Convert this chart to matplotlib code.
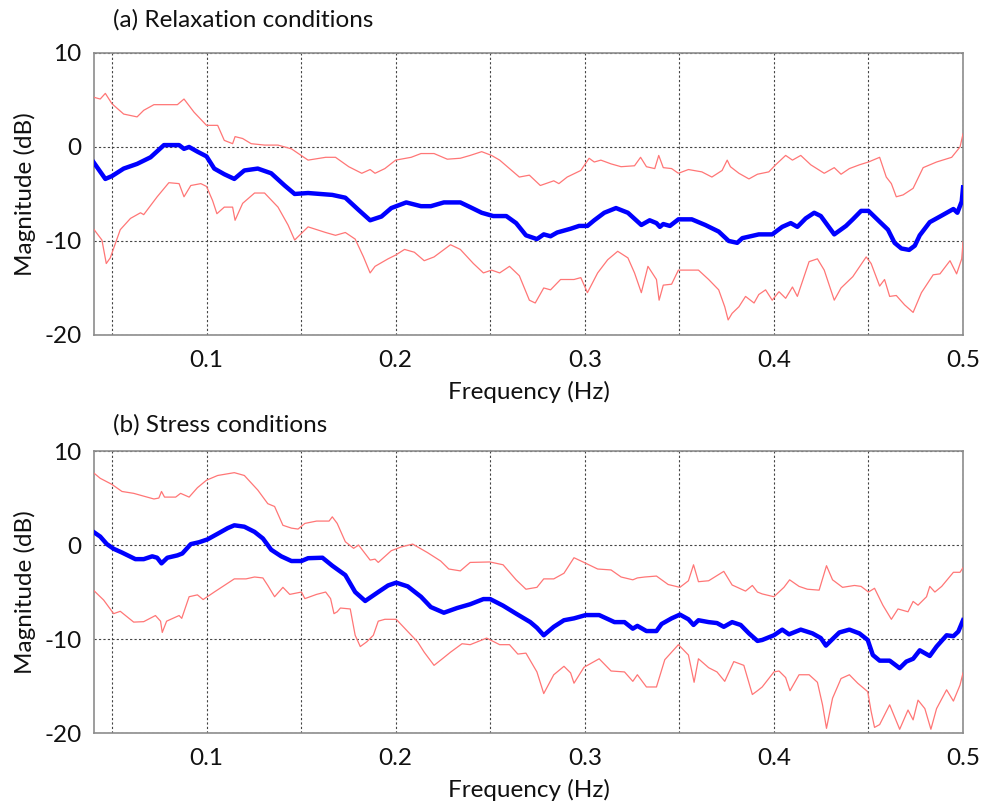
import numpy as np
import matplotlib
matplotlib.use("Agg")
import matplotlib.pyplot as plt
from matplotlib.ticker import MultipleLocator

plt.rcParams['font.family'] = ['Lato', 'DejaVu Sans']
plt.rcParams['axes.unicode_minus'] = False

# (a) relaxation: mean magnitude
a_mean_f = [0.0402, 0.0465, 0.0500, 0.0562, 0.0633, 0.0704, 0.0775, 0.0855, 0.0881, 0.0908, 0.0952, 0.1000,
            0.1041, 0.1094, 0.1147, 0.1200, 0.1271, 0.1342, 0.1413, 0.1466, 0.1537, 0.1665, 0.1734, 0.1804,
            0.1865, 0.1925, 0.1977, 0.2056, 0.2134, 0.2186, 0.2255, 0.2342, 0.2394, 0.2455, 0.2516, 0.2585,
            0.2637, 0.2689, 0.2747, 0.2783, 0.2819, 0.2854, 0.2925, 0.2970, 0.3014, 0.3050, 0.3103, 0.3165,
            0.3228, 0.3299, 0.3343, 0.3379, 0.3397, 0.3415, 0.3450, 0.3495, 0.3566, 0.3637, 0.3708, 0.3761,
            0.3806, 0.3833, 0.3920, 0.3991, 0.4044, 0.4089, 0.4124, 0.4168, 0.4213, 0.4248, 0.4319, 0.4381,
            0.4417, 0.4461, 0.4500, 0.4559, 0.4603, 0.4638, 0.4674, 0.4715, 0.4745, 0.4771, 0.4824, 0.4878,
            0.4949, 0.4970, 0.4993, 0.5000]
a_mean = [-1.6, -3.4, -3.1, -2.3, -1.8, -1.1, 0.2, 0.2, -0.2, 0.0, -0.5, -1.0,
          -2.3, -2.9, -3.4, -2.5, -2.3, -2.8, -4.1, -5.0, -4.9, -5.1, -5.4, -6.7,
          -7.8, -7.4, -6.5, -5.9, -6.3, -6.3, -5.9, -5.9, -6.4, -7.0, -7.35, -7.35,
          -8.1, -9.4, -9.8, -9.3, -9.5, -9.1, -8.7, -8.4, -8.4, -7.8, -7.0, -6.5,
          -7.0, -8.3, -7.8, -8.1, -8.5, -8.2, -8.4, -7.7, -7.7, -8.3, -9.0, -10.0,
          -10.2, -9.7, -9.3, -9.3, -8.5, -8.1, -8.5, -7.6, -7.0, -7.35, -9.3, -8.4,
          -7.7, -6.8, -6.8, -7.95, -8.8, -10.2, -10.8, -10.95, -10.5, -9.4, -8.0, -7.4,
          -6.6, -7.0, -5.8, -4.3]

# (a) upper bound
a_up_f = [0.0402, 0.0438, 0.0465, 0.0500, 0.0562, 0.0633, 0.0668, 0.0722, 0.0846, 0.0881, 0.0934, 0.1000,
          0.1059, 0.1094, 0.1138, 0.1151, 0.1191, 0.1236, 0.1307, 0.1378, 0.1449, 0.1537, 0.1630, 0.1682,
          0.1752, 0.1821, 0.1865, 0.1891, 0.1943, 0.2000, 0.2082, 0.2134, 0.2203, 0.2273, 0.2342, 0.2394,
          0.2455, 0.2507, 0.2550, 0.2602, 0.2654, 0.2707, 0.2765, 0.2836, 0.2863, 0.2907, 0.2979, 0.3023,
          0.3050, 0.3085, 0.3139, 0.3192, 0.3263, 0.3295, 0.3326, 0.3370, 0.3391, 0.3415, 0.3459, 0.3495,
          0.3548, 0.3619, 0.3672, 0.3726, 0.3753, 0.3770, 0.3815, 0.3868, 0.3913, 0.3973, 0.4009, 0.4062,
          0.4098, 0.4142, 0.4195, 0.4266, 0.4319, 0.4355, 0.4399, 0.4452, 0.4500, 0.4559, 0.4594, 0.4621,
          0.4647, 0.4683, 0.4736, 0.4789, 0.4860, 0.4940, 0.4984, 0.5000]
a_up = [5.3, 5.1, 5.7, 4.6, 3.5, 3.2, 3.9, 4.5, 4.5, 5.1, 3.7, 2.3,
        2.3, 0.7, 0.35, 1.1, 0.9, 0.35, 0.2, 0.2, -0.2, -1.4, -1.1, -1.1,
        -2.1, -2.8, -2.4, -2.8, -2.3, -1.4, -1.1, -0.7, -0.7, -1.3, -1.2, -0.9,
        -0.5, -0.9, -1.4, -2.3, -3.2, -3.0, -4.1, -3.6, -3.9, -3.2, -2.5, -1.2,
        -1.6, -1.4, -1.8, -2.1, -2.0, -1.1, -2.1, -2.3, -0.9, -2.2, -2.3, -2.8,
        -2.4, -2.65, -3.2, -2.5, -1.4, -2.1, -2.8, -3.4, -2.9, -2.65, -1.9, -0.9,
        -1.4, -0.9, -1.9, -2.8, -2.2, -2.9, -2.3, -1.9, -1.6, -1.1, -3.2, -3.9,
        -5.3, -5.1, -4.4, -2.2, -1.6, -1.1, 0.0, 1.4]

# (a) lower bound
a_lo_f = [0.0402, 0.0447, 0.0470, 0.0491, 0.0544, 0.0598, 0.0651, 0.0668, 0.0739, 0.0801, 0.0855, 0.0881,
          0.0917, 0.0970, 0.1000, 0.1032, 0.1055, 0.1094, 0.1138, 0.1151, 0.1191, 0.1254, 0.1307, 0.1378,
          0.1431, 0.1466, 0.1537, 0.1630, 0.1682, 0.1734, 0.1786, 0.1830, 0.1865, 0.1891, 0.1960, 0.2000,
          0.2047, 0.2099, 0.2151, 0.2203, 0.2290, 0.2342, 0.2411, 0.2464, 0.2507, 0.2550, 0.2602, 0.2654,
          0.2707, 0.2738, 0.2783, 0.2819, 0.2872, 0.2943, 0.2979, 0.3014, 0.3068, 0.3121, 0.3174, 0.3228,
          0.3263, 0.3299, 0.3334, 0.3379, 0.3393, 0.3415, 0.3459, 0.3495, 0.3601, 0.3655, 0.3708, 0.3740,
          0.3758, 0.3779, 0.3815, 0.3850, 0.3895, 0.3920, 0.3956, 0.3991, 0.4027, 0.4062, 0.4098, 0.4124,
          0.4186, 0.4230, 0.4266, 0.4319, 0.4355, 0.4417, 0.4488, 0.4514, 0.4559, 0.4585, 0.4612, 0.4647,
          0.4691, 0.4736, 0.4780, 0.4842, 0.4878, 0.4931, 0.4966, 0.4993, 0.5000]
a_lo = [-8.7, -9.9, -12.4, -11.8, -8.8, -7.6, -7.0, -7.2, -5.3, -3.8, -3.9, -5.3,
        -4.1, -3.9, -4.2, -5.7, -7.1, -6.4, -6.4, -7.8, -6.0, -4.9, -4.9, -6.4,
        -8.3, -9.9, -8.5, -9.1, -9.4, -9.1, -9.8, -11.7, -13.4, -12.7, -11.9, -11.5,
        -10.9, -11.2, -12.1, -11.7, -10.4, -10.9, -12.4, -13.4, -13.1, -13.4, -12.7, -13.7,
        -16.3, -16.6, -15.0, -15.2, -14.1, -14.1, -13.9, -15.5, -13.4, -12.0, -11.1, -11.8,
        -13.4, -15.5, -12.7, -14.1, -16.3, -14.7, -14.6, -13.1, -13.1, -14.1, -15.2, -17.0,
        -18.4, -17.7, -17.0, -15.9, -16.6, -15.7, -15.2, -16.3, -15.4, -16.1, -14.9, -15.9,
        -12.2, -11.9, -13.1, -16.3, -15.0, -13.8, -11.7, -12.4, -14.8, -14.1, -15.9, -15.8,
        -16.8, -17.6, -15.5, -13.6, -13.5, -12.1, -13.5, -11.9, -10.1]

# (b) stress: mean magnitude
b_mean_f = [0.0402, 0.0438, 0.0473, 0.0509, 0.0553, 0.0624, 0.0668, 0.0713, 0.0739, 0.0762, 0.0793, 0.0846,
            0.0872, 0.0917, 0.0961, 0.1005, 0.1059, 0.1112, 0.1147, 0.1200, 0.1254, 0.1298, 0.1342, 0.1395,
            0.1449, 0.1502, 0.1537, 0.1613, 0.1665, 0.1734, 0.1786, 0.1839, 0.1908, 0.1960, 0.2003, 0.2064,
            0.2134, 0.2186, 0.2255, 0.2325, 0.2394, 0.2464, 0.2500, 0.2568, 0.2637, 0.2712, 0.2747, 0.2783,
            0.2836, 0.2890, 0.2943, 0.3005, 0.3076, 0.3157, 0.3210, 0.3254, 0.3278, 0.3326, 0.3379, 0.3406,
            0.3459, 0.3503, 0.3548, 0.3575, 0.3601, 0.3655, 0.3699, 0.3735, 0.3779, 0.3824, 0.3868, 0.3913,
            0.3938, 0.4000, 0.4044, 0.4080, 0.4142, 0.4204, 0.4248, 0.4275, 0.4310, 0.4346, 0.4399, 0.4452,
            0.4496, 0.4523, 0.4559, 0.4612, 0.4665, 0.4700, 0.4736, 0.4771, 0.4824, 0.4860, 0.4913, 0.4949,
            0.4975, 0.5000]
b_mean = [1.4, 0.9, 0.1, -0.4, -0.8, -1.5, -1.5, -1.2, -1.35, -1.95, -1.35, -1.1,
          -0.9, 0.1, 0.3, 0.6, 1.2, 1.8, 2.1, 1.95, 1.4, 0.7, -0.5, -1.2,
          -1.7, -1.7, -1.4, -1.35, -2.2, -3.2, -5.0, -5.95, -5.0, -4.3, -4.0, -4.4,
          -5.5, -6.6, -7.2, -6.7, -6.3, -5.75, -5.75, -6.45, -7.3, -8.2, -8.8, -9.6,
          -8.7, -8.0, -7.8, -7.45, -7.45, -8.2, -8.2, -8.9, -8.6, -9.15, -9.15, -8.4,
          -7.8, -7.4, -7.9, -8.5, -8.0, -8.2, -8.3, -8.7, -8.2, -8.5, -9.4, -10.2,
          -10.1, -9.6, -9.0, -9.5, -9.0, -9.4, -9.9, -10.7, -10.0, -9.3, -9.0, -9.4,
          -10.1, -11.7, -12.3, -12.3, -13.1, -12.4, -12.1, -11.2, -11.8, -10.8, -9.6, -9.7,
          -9.2, -8.0]

# (b) upper bound
b_up_f = [0.0402, 0.0438, 0.0500, 0.0553, 0.0615, 0.0668, 0.0722, 0.0748, 0.0762, 0.0778, 0.0837, 0.0863,
          0.0908, 0.0952, 0.1000, 0.1059, 0.1147, 0.1200, 0.1271, 0.1324, 0.1360, 0.1404, 0.1449, 0.1484,
          0.1520, 0.1582, 0.1648, 0.1665, 0.1691, 0.1734, 0.1778, 0.1804, 0.1865, 0.1891, 0.1908, 0.1977,
          0.2030, 0.2090, 0.2168, 0.2238, 0.2281, 0.2342, 0.2394, 0.2498, 0.2568, 0.2637, 0.2689, 0.2747,
          0.2783, 0.2836, 0.2890, 0.2943, 0.2996, 0.3068, 0.3139, 0.3192, 0.3254, 0.3278, 0.3317, 0.3379,
          0.3441, 0.3503, 0.3548, 0.3575, 0.3601, 0.3655, 0.3735, 0.3779, 0.3850, 0.3886, 0.3913, 0.3938,
          0.4000, 0.4053, 0.4083, 0.4133, 0.4177, 0.4239, 0.4278, 0.4310, 0.4363, 0.4426, 0.4461, 0.4500,
          0.4532, 0.4576, 0.4621, 0.4656, 0.4709, 0.4736, 0.4762, 0.4807, 0.4824, 0.4851, 0.4887, 0.4949,
          0.4984, 0.5000]
b_up = [7.7, 7.1, 6.45, 5.7, 5.5, 5.2, 4.9, 5.0, 5.7, 5.1, 5.1, 5.5,
        5.1, 6.1, 6.9, 7.4, 7.7, 7.4, 5.85, 4.4, 4.1, 2.1, 1.8, 1.7,
        2.3, 2.55, 2.55, 3.0, 2.3, 0.35, -0.35, 0.0, -1.6, -1.5, -1.85, -0.6,
        -0.2, 0.1, -0.8, -1.7, -2.55, -2.75, -1.85, -1.8, -2.1, -3.7, -4.7, -4.5,
        -3.6, -3.6, -3.0, -1.35, -1.85, -2.55, -2.65, -3.4, -3.7, -3.5, -3.4, -3.3,
        -4.2, -4.5, -3.8, -2.1, -3.9, -3.8, -2.8, -4.25, -4.9, -4.3, -5.0, -5.2,
        -5.5, -4.5, -3.7, -4.4, -4.7, -4.8, -2.2, -3.7, -4.5, -4.3, -4.4, -5.0,
        -4.6, -6.4, -7.9, -6.8, -7.1, -6.0, -6.4, -5.5, -4.4, -5.0, -4.4, -2.9,
        -2.9, -2.4]

# (b) lower bound
b_lo_f = [0.0402, 0.0456, 0.0509, 0.0544, 0.0615, 0.0668, 0.0730, 0.0757, 0.0766, 0.0789, 0.0855, 0.0869,
          0.0908, 0.0952, 0.0982, 0.1041, 0.1094, 0.1147, 0.1209, 0.1254, 0.1298, 0.1324, 0.1360, 0.1404,
          0.1440, 0.1502, 0.1520, 0.1582, 0.1630, 0.1656, 0.1674, 0.1691, 0.1708, 0.1760, 0.1786, 0.1813,
          0.1847, 0.1882, 0.1908, 0.1943, 0.2003, 0.2064, 0.2116, 0.2151, 0.2203, 0.2247, 0.2290, 0.2351,
          0.2394, 0.2481, 0.2550, 0.2602, 0.2646, 0.2689, 0.2747, 0.2783, 0.2836, 0.2890, 0.2925, 0.2943,
          0.2996, 0.3076, 0.3139, 0.3210, 0.3254, 0.3278, 0.3326, 0.3379, 0.3423, 0.3495, 0.3548, 0.3578,
          0.3601, 0.3655, 0.3699, 0.3740, 0.3788, 0.3841, 0.3886, 0.3913, 0.3938, 0.4000, 0.4027, 0.4062,
          0.4085, 0.4133, 0.4186, 0.4230, 0.4257, 0.4278, 0.4310, 0.4355, 0.4399, 0.4443, 0.4496, 0.4514,
          0.4532, 0.4559, 0.4612, 0.4665, 0.4709, 0.4736, 0.4762, 0.4798, 0.4830, 0.4860, 0.4913, 0.4949,
          0.4984, 0.5000]
b_lo = [-4.8, -5.85, -7.3, -7.05, -8.2, -8.15, -7.5, -8.1, -9.3, -8.1, -7.5, -7.8,
        -5.5, -5.3, -5.8, -5.0, -4.3, -3.6, -3.6, -3.4, -3.5, -4.3, -5.5, -4.5,
        -5.25, -5.0, -5.7, -5.25, -5.0, -5.7, -7.3, -7.1, -6.7, -6.8, -9.6, -10.8,
        -10.3, -9.6, -8.1, -7.9, -7.9, -9.2, -10.3, -11.4, -12.8, -12.1, -11.4, -10.5,
        -10.6, -9.9, -10.6, -10.6, -11.6, -11.5, -13.5, -15.8, -13.8, -12.9, -13.6, -14.7,
        -13.0, -12.1, -13.4, -13.5, -14.5, -13.8, -15.1, -15.1, -12.2, -10.6, -11.7, -14.6,
        -12.1, -13.05, -13.5, -14.5, -12.4, -12.8, -15.9, -15.5, -15.1, -13.5, -13.4, -14.1,
        -15.5, -13.8, -13.8, -14.6, -17.0, -19.5, -16.3, -14.2, -13.8, -14.7, -15.6, -17.7,
        -19.4, -19.1, -17.0, -19.6, -17.55, -18.6, -16.5, -17.4, -19.6, -17.4, -15.4, -16.6,
        -14.9, -13.6]

titles = ["(a) Relaxation conditions", "(b) Stress conditions"]
x_ticks = [0.1, 0.2, 0.3, 0.4, 0.5]
y_ticks = [-20, -10, 0, 10]

panels = [
    (a_mean_f, a_mean, a_up_f, a_up, a_lo_f, a_lo),
    (b_mean_f, b_mean, b_up_f, b_up, b_lo_f, b_lo),
]

fig = plt.figure(figsize=(9.82, 8.05), dpi=100)
ax_rects = [[0.0957, 0.5839, 0.8850, 0.3503], [0.0957, 0.0894, 0.8850, 0.3503]]
title_y = [1.117, 1.092]
fs = 17.5

for i, (mf, m, uf, u, lf, l) in enumerate(panels):
    ax = fig.add_axes(ax_rects[i])
    ax.plot(uf, u, color="#ff7676", lw=0.9, zorder=3)
    ax.plot(lf, l, color="#ff7676", lw=0.9, zorder=3)
    ax.plot(mf, m, color="#0000ff", lw=3.2, zorder=4, solid_joinstyle="round")

    ax.set_xlim(0.0405, 0.5)
    ax.set_ylim(-20, 10)
    ax.set_xticks(x_ticks)
    ax.set_xticklabels([f"{t:g}" for t in x_ticks])
    ax.xaxis.set_minor_locator(MultipleLocator(0.05))
    ax.set_yticks(y_ticks)
    ax.tick_params(which="both", length=0, labelsize=fs, colors="#111111")
    ax.tick_params(axis="x", pad=11)
    ax.tick_params(axis="y", pad=9)
    ax.grid(which="both", axis="x", color="#444444", ls=(0, (2, 2)), lw=0.8)
    ax.grid(which="major", axis="y", color="#444444", ls=(0, (2, 2)), lw=0.8)
    for s in ax.spines.values():
        s.set_color("#8c8c8c")
        s.set_linewidth(1.2)
    ax.set_xlabel("Frequency (Hz)", fontsize=fs, labelpad=7, color="#111111")
    ax.set_ylabel("Magnitude (dB)", fontsize=fs, labelpad=6, color="#111111")
    ax.text(0.022, title_y[i], titles[i], transform=ax.transAxes, fontsize=fs,
            va="center", ha="left", color="#111111")

fig.savefig("out.png", dpi=100)
